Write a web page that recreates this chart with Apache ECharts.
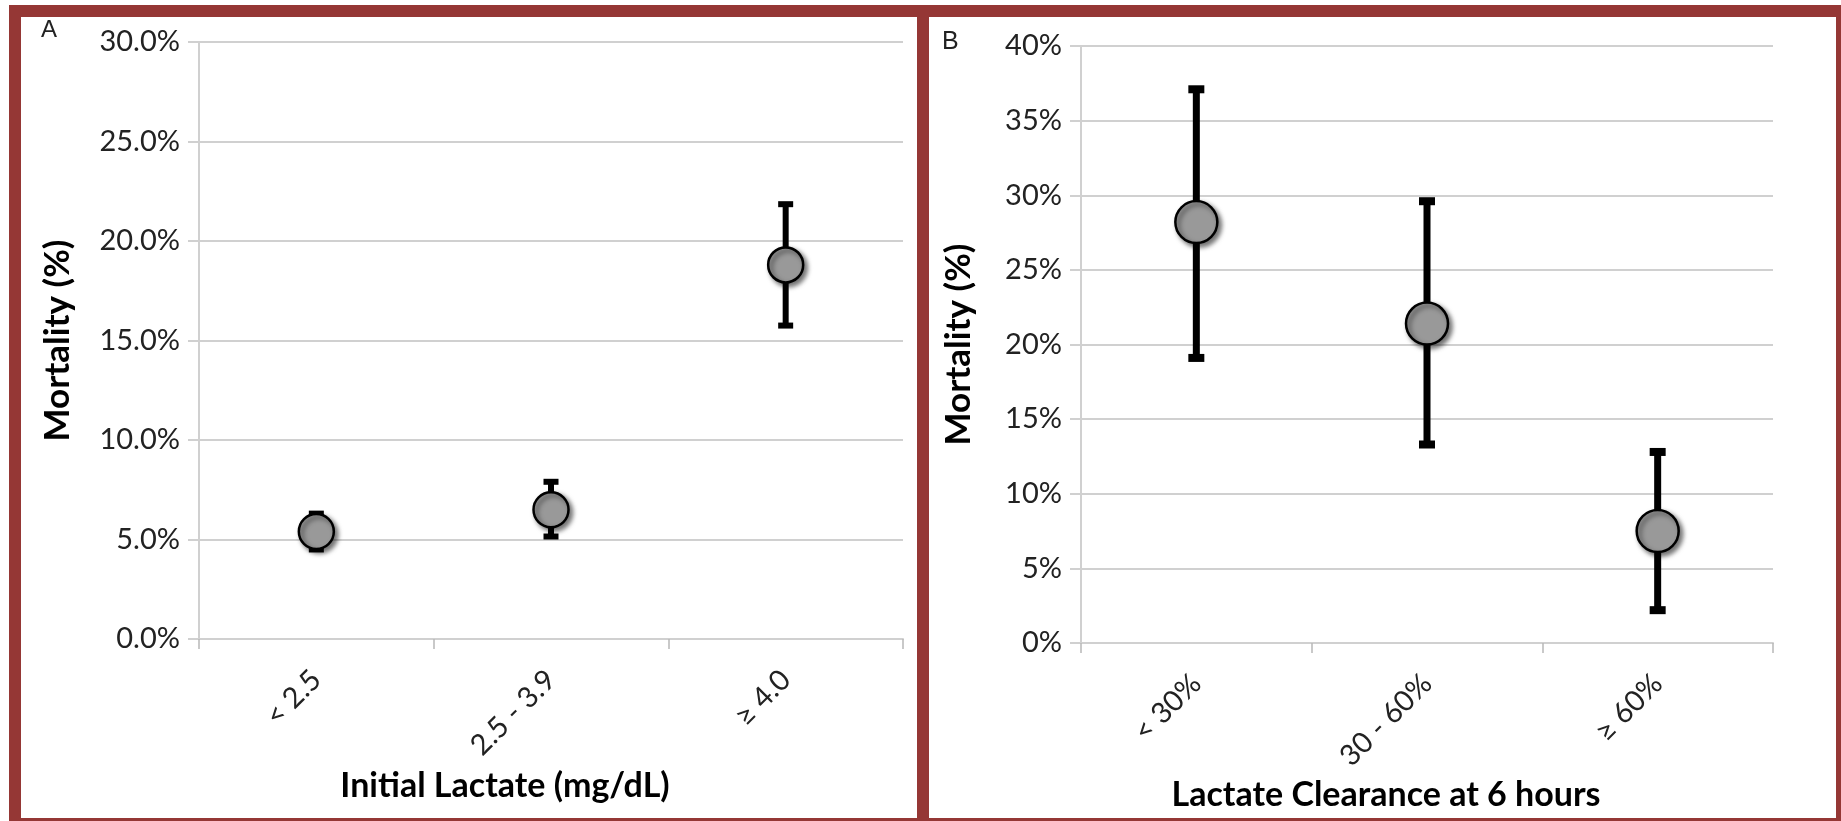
<!DOCTYPE html>
<html>
<head>
<meta charset="utf-8">
<script src="https://cdn.jsdelivr.net/npm/echarts@6/dist/echarts.min.js"></script>
<style>
html,body{margin:0;padding:0;background:#fff;}
#c{width:1841px;height:821px;}
</style>
</head>
<body>
<div id="c"></div>
<script>
// ---- Panel A data ----
const catsA = ['< 2.5', '2.5 - 3.9', '\u2265 4.0'];
const meanA = [5.4, 6.5, 18.8];
const lowA = [4.5, 5.15, 15.75];
const highA = [6.3, 7.9, 21.85];
const yTicksA = { min: 0, max: 30, interval: 5 };

// ---- Panel B data ----
const catsB = ['< 30%', '30 - 60%', '\u2265 60%'];
const meanB = [28.2, 21.4, 7.5];
const lowB = [19.1, 13.3, 2.2];
const highB = [37.1, 29.6, 12.8];
const yTicksB = { min: 0, max: 40, interval: 5 };

const titleA = 'Initial Lactate (mg/dL)';
const titleB = 'Lactate Clearance at 6 hours';
const yTitle = 'Mortality (%)';

const RED = '#953735';
const GRID = '#d0d0d0';
const TXT = '#222222';

function errRender(lw, capLen, capW) {
  return function (params, api) {
    const xi = api.value(0);
    const lo = api.coord([xi, api.value(1)]);
    const hi = api.coord([xi, api.value(2)]);
    const st = { stroke: '#000', lineWidth: lw, lineCap: 'butt' };
    const cs = { stroke: '#000', lineWidth: capW, lineCap: 'butt' };
    return {
      type: 'group',
      children: [
        { type: 'line', shape: { x1: lo[0], y1: lo[1], x2: hi[0], y2: hi[1] }, style: st },
        { type: 'line', shape: { x1: hi[0] - capLen / 2, y1: hi[1], x2: hi[0] + capLen / 2, y2: hi[1] }, style: cs },
        { type: 'line', shape: { x1: lo[0] - capLen / 2, y1: lo[1], x2: lo[0] + capLen / 2, y2: lo[1] }, style: cs }
      ]
    };
  };
}

function xAxisCfg(gi, cats) {
  return {
    type: 'category', gridIndex: gi, data: cats, boundaryGap: true,
    axisLine: { show: true, lineStyle: { color: GRID, width: 2 } },
    axisTick: { show: true, length: 10, lineStyle: { color: '#b8b8b8', width: 1.5 } },
    axisLabel: { rotate: 45, margin: 36, fontSize: 29, color: TXT, fontFamily: 'Lato' },
    splitLine: { show: false }
  };
}
function yAxisCfg(gi, t, fmt, gap) {
  return {
    type: 'value', gridIndex: gi, min: t.min, max: t.max, interval: t.interval,
    axisLine: { show: true, lineStyle: { color: GRID, width: 2 } },
    axisTick: { show: true, length: 11, lineStyle: { color: GRID, width: 2 } },
    axisLabel: { margin: 19, fontSize: 29, color: TXT, fontFamily: 'Lato', formatter: fmt },
    splitLine: { show: true, lineStyle: { color: GRID, width: 2 } },
    name: yTitle, nameLocation: 'middle', nameRotate: 90, nameGap: gap,
    nameTextStyle: { fontSize: 35, fontWeight: 'bold', color: '#000', fontFamily: 'Lato' }
  };
}

const markerStyle = {
  color: '#999999', opacity: 1, borderColor: '#000', borderWidth: 2.5,
  shadowColor: 'rgba(0,0,0,0.55)', shadowBlur: 5, shadowOffsetX: 3, shadowOffsetY: 3
};

const chart = echarts.init(document.getElementById('c'), null, { renderer: 'canvas' });
chart.setOption({
  animation: false,
  backgroundColor: '#fff',
  textStyle: { fontFamily: 'Lato' },
  grid: [
    { left: 199, right: 938, top: 42, bottom: 182 },
    { left: 1081, right: 68, top: 46, bottom: 178 }
  ],
  xAxis: [xAxisCfg(0, catsA), xAxisCfg(1, catsB)],
  yAxis: [
    yAxisCfg(0, yTicksA, v => v.toFixed(1) + '%', 124),
    yAxisCfg(1, yTicksB, v => v + '%', 105)
  ],
  series: [
    { type: 'custom', xAxisIndex: 0, yAxisIndex: 0, z: 2,
      renderItem: errRender(6, 15, 6),
      data: catsA.map((c, i) => [i, lowA[i], highA[i]]) },
    { type: 'scatter', xAxisIndex: 0, yAxisIndex: 0, z: 3, symbol: 'circle', symbolSize: 35,
      itemStyle: markerStyle, data: meanA.map((v, i) => [i, v]) },
    { type: 'custom', xAxisIndex: 1, yAxisIndex: 1, z: 2,
      renderItem: errRender(7, 16, 8),
      data: catsB.map((c, i) => [i, lowB[i], highB[i]]) },
    { type: 'scatter', xAxisIndex: 1, yAxisIndex: 1, z: 3, symbol: 'circle', symbolSize: 42,
      itemStyle: markerStyle, data: meanB.map((v, i) => [i, v]) }
  ],
  graphic: [
    { type: 'rect', shape: { x: 9, y: 5, width: 1841, height: 12 }, style: { fill: RED }, z: 10 },
    { type: 'rect', shape: { x: 9, y: 5, width: 12, height: 830 }, style: { fill: RED }, z: 10 },
    { type: 'rect', shape: { x: 917, y: 5, width: 12, height: 830 }, style: { fill: RED }, z: 10 },
    { type: 'rect', shape: { x: 1836, y: 5, width: 12, height: 830 }, style: { fill: RED }, z: 10 },
    { type: 'rect', shape: { x: 9, y: 818, width: 1841, height: 12 }, style: { fill: RED }, z: 10 },
    { type: 'text', x: 41, y: 18, style: { text: 'A', font: '24px "Liberation Sans"', fill: '#222' }, z: 10 },
    { type: 'text', x: 942, y: 30, style: { text: 'B', font: '25px "Liberation Sans"', fill: '#222' }, z: 10 },
    { type: 'text', x: 505, y: 786, style: { text: titleA, font: 'bold 34px Lato', fill: '#000', textAlign: 'center', textVerticalAlign: 'middle' }, z: 10 },
    { type: 'text', x: 1386, y: 795, style: { text: titleB, font: 'bold 34px Lato', fill: '#000', textAlign: 'center', textVerticalAlign: 'middle' }, z: 10 }
  ]
});
</script>
</body>
</html>
